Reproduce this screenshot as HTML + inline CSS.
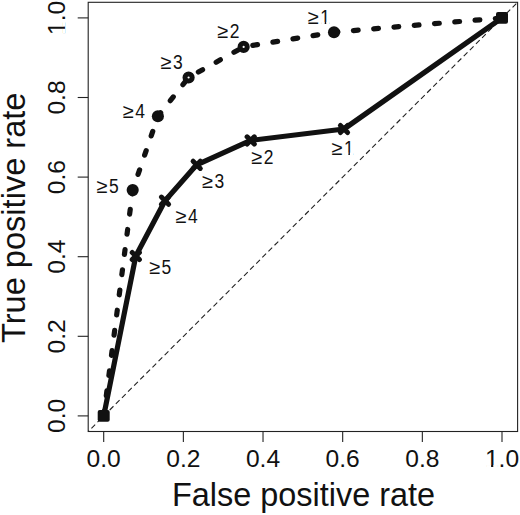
<!DOCTYPE html>
<html><head><meta charset="utf-8"><title>ROC</title>
<style>
html,body{margin:0;padding:0;background:#fff;}
svg{display:block;font-family:"Liberation Sans",sans-serif;}
</style></head><body>
<svg width="520" height="515" viewBox="0 0 520 515">
<rect width="520" height="515" fill="#fff"/>
<rect x="88.2" y="2.3" width="429.4" height="429.2" fill="none" stroke="#222" stroke-width="1.1"/>
<line x1="103.70" y1="431.5" x2="103.70" y2="442.0" stroke="#222" stroke-width="1.1"/>
<line x1="88.2" y1="415.90" x2="77.7" y2="415.90" stroke="#222" stroke-width="1.1"/>
<g transform="translate(103.70,467.2)"><text x="0" y="0" font-size="24.6" text-anchor="middle" fill="#111">0.0</text></g>
<g transform="translate(64.9,415.90) rotate(-90)"><text x="0" y="0" font-size="24.6" text-anchor="middle" fill="#111">0.0</text></g>
<line x1="183.36" y1="431.5" x2="183.36" y2="442.0" stroke="#222" stroke-width="1.1"/>
<line x1="88.2" y1="336.30" x2="77.7" y2="336.30" stroke="#222" stroke-width="1.1"/>
<g transform="translate(183.36,467.2)"><text x="0" y="0" font-size="24.6" text-anchor="middle" fill="#111">0.2</text></g>
<g transform="translate(64.9,336.30) rotate(-90)"><text x="0" y="0" font-size="24.6" text-anchor="middle" fill="#111">0.2</text></g>
<line x1="263.02" y1="431.5" x2="263.02" y2="442.0" stroke="#222" stroke-width="1.1"/>
<line x1="88.2" y1="256.70" x2="77.7" y2="256.70" stroke="#222" stroke-width="1.1"/>
<g transform="translate(263.02,467.2)"><text x="0" y="0" font-size="24.6" text-anchor="middle" fill="#111">0.4</text></g>
<g transform="translate(64.9,256.70) rotate(-90)"><text x="0" y="0" font-size="24.6" text-anchor="middle" fill="#111">0.4</text></g>
<line x1="342.68" y1="431.5" x2="342.68" y2="442.0" stroke="#222" stroke-width="1.1"/>
<line x1="88.2" y1="177.10" x2="77.7" y2="177.10" stroke="#222" stroke-width="1.1"/>
<g transform="translate(342.68,467.2)"><text x="0" y="0" font-size="24.6" text-anchor="middle" fill="#111">0.6</text></g>
<g transform="translate(64.9,177.10) rotate(-90)"><text x="0" y="0" font-size="24.6" text-anchor="middle" fill="#111">0.6</text></g>
<line x1="422.34" y1="431.5" x2="422.34" y2="442.0" stroke="#222" stroke-width="1.1"/>
<line x1="88.2" y1="97.50" x2="77.7" y2="97.50" stroke="#222" stroke-width="1.1"/>
<g transform="translate(422.34,467.2)"><text x="0" y="0" font-size="24.6" text-anchor="middle" fill="#111">0.8</text></g>
<g transform="translate(64.9,97.50) rotate(-90)"><text x="0" y="0" font-size="24.6" text-anchor="middle" fill="#111">0.8</text></g>
<line x1="502.00" y1="431.5" x2="502.00" y2="442.0" stroke="#222" stroke-width="1.1"/>
<line x1="88.2" y1="17.90" x2="77.7" y2="17.90" stroke="#222" stroke-width="1.1"/>
<g transform="translate(502.00,467.2)"><text x="0" y="0" font-size="24.6" text-anchor="middle" fill="#111">1.0</text><rect x="-15.87" y="-2.19" width="4.96" height="2.74" fill="#fff"/><rect x="-8.74" y="-2.19" width="4.68" height="2.74" fill="#fff"/></g>
<g transform="translate(64.9,17.90) rotate(-90)"><text x="0" y="0" font-size="24.6" text-anchor="middle" fill="#111">1.0</text><rect x="-15.87" y="-2.19" width="4.96" height="2.74" fill="#fff"/><rect x="-8.74" y="-2.19" width="4.68" height="2.74" fill="#fff"/></g>
<line x1="88.2" y1="431.5" x2="517.6" y2="2.3" stroke="#222" stroke-width="1.1" stroke-dasharray="5.3 3.33" stroke-dashoffset="4.09"/>
<text x="303.5" y="505.8" font-size="32.45" text-anchor="middle" fill="#111">False positive rate</text>
<text transform="translate(25.3,217.75) rotate(-90)" font-size="32.6" text-anchor="middle" fill="#111">True positive rate</text>
<polyline points="103.70,415.90 132.70,190.10 157.90,116.30 188.60,77.50 243.65,46.90 334.00,32.20 502.00,17.90" fill="none" stroke="#111" stroke-width="5.2" stroke-linecap="round" stroke-linejoin="round" stroke-dasharray="4.8 15.55"/>
<polyline points="103.70,415.90 135.80,256.00 165.00,200.70 196.70,164.80 250.70,140.40 344.00,129.00 502.00,17.90" fill="none" stroke="#111" stroke-width="5.2" stroke-linecap="round" stroke-linejoin="round"/>
<circle cx="132.7" cy="190.1" r="6.05" fill="#111"/>
<circle cx="157.9" cy="116.3" r="6.05" fill="#111"/>
<circle cx="188.6" cy="77.5" r="3.6" fill="#fff" stroke="#111" stroke-width="5.0"/>
<circle cx="243.65" cy="46.9" r="3.6" fill="#fff" stroke="#111" stroke-width="5.0"/>
<circle cx="334.0" cy="32.2" r="6.05" fill="#111"/>
<path d="M132.20 252.40L139.40 259.60M132.20 259.60L139.40 252.40" stroke="#111" stroke-width="5.0" stroke-linecap="round" fill="none"/>
<path d="M161.40 197.10L168.60 204.30M161.40 204.30L168.60 197.10" stroke="#111" stroke-width="5.0" stroke-linecap="round" fill="none"/>
<path d="M193.10 161.20L200.30 168.40M193.10 168.40L200.30 161.20" stroke="#111" stroke-width="5.0" stroke-linecap="round" fill="none"/>
<path d="M247.10 136.80L254.30 144.00M247.10 144.00L254.30 136.80" stroke="#111" stroke-width="5.0" stroke-linecap="round" fill="none"/>
<path d="M340.40 125.40L347.60 132.60M340.40 132.60L347.60 125.40" stroke="#111" stroke-width="5.0" stroke-linecap="round" fill="none"/>
<rect x="97.70" y="410.00" width="12" height="11.8" rx="2" fill="#111"/>
<rect x="496.00" y="12.00" width="12" height="11.8" rx="2" fill="#111"/>
<text x="307.60" y="23.8" font-size="20" fill="#111">≥<tspan x="320.30" textLength="9.7" lengthAdjust="spacingAndGlyphs">1</tspan></text><rect x="321.17" y="21.96" width="3.51" height="2.39" fill="#fff"/><rect x="326.21" y="21.96" width="3.31" height="2.39" fill="#fff"/>
<text x="217.10" y="37.7" font-size="20" fill="#111">≥<tspan x="229.80" textLength="9.7" lengthAdjust="spacingAndGlyphs">2</tspan></text>
<text x="160.20" y="69.0" font-size="20" fill="#111">≥<tspan x="172.90" textLength="9.7" lengthAdjust="spacingAndGlyphs">3</tspan></text>
<text x="122.60" y="118.3" font-size="20" fill="#111">≥<tspan x="135.30" textLength="9.7" lengthAdjust="spacingAndGlyphs">4</tspan></text>
<text x="96.20" y="193.4" font-size="20" fill="#111">≥<tspan x="108.90" textLength="9.7" lengthAdjust="spacingAndGlyphs">5</tspan></text>
<text x="148.90" y="273.7" font-size="20" fill="#111">≥<tspan x="161.60" textLength="9.7" lengthAdjust="spacingAndGlyphs">5</tspan></text>
<text x="175.30" y="222.5" font-size="20" fill="#111">≥<tspan x="188.00" textLength="9.7" lengthAdjust="spacingAndGlyphs">4</tspan></text>
<text x="201.70" y="188.3" font-size="20" fill="#111">≥<tspan x="214.40" textLength="9.7" lengthAdjust="spacingAndGlyphs">3</tspan></text>
<text x="251.00" y="163.9" font-size="20" fill="#111">≥<tspan x="263.70" textLength="9.7" lengthAdjust="spacingAndGlyphs">2</tspan></text>
<text x="331.30" y="154.5" font-size="20" fill="#111">≥<tspan x="344.00" textLength="9.7" lengthAdjust="spacingAndGlyphs">1</tspan></text><rect x="344.87" y="152.66" width="3.51" height="2.39" fill="#fff"/><rect x="349.91" y="152.66" width="3.31" height="2.39" fill="#fff"/>
</svg>
</body></html>
